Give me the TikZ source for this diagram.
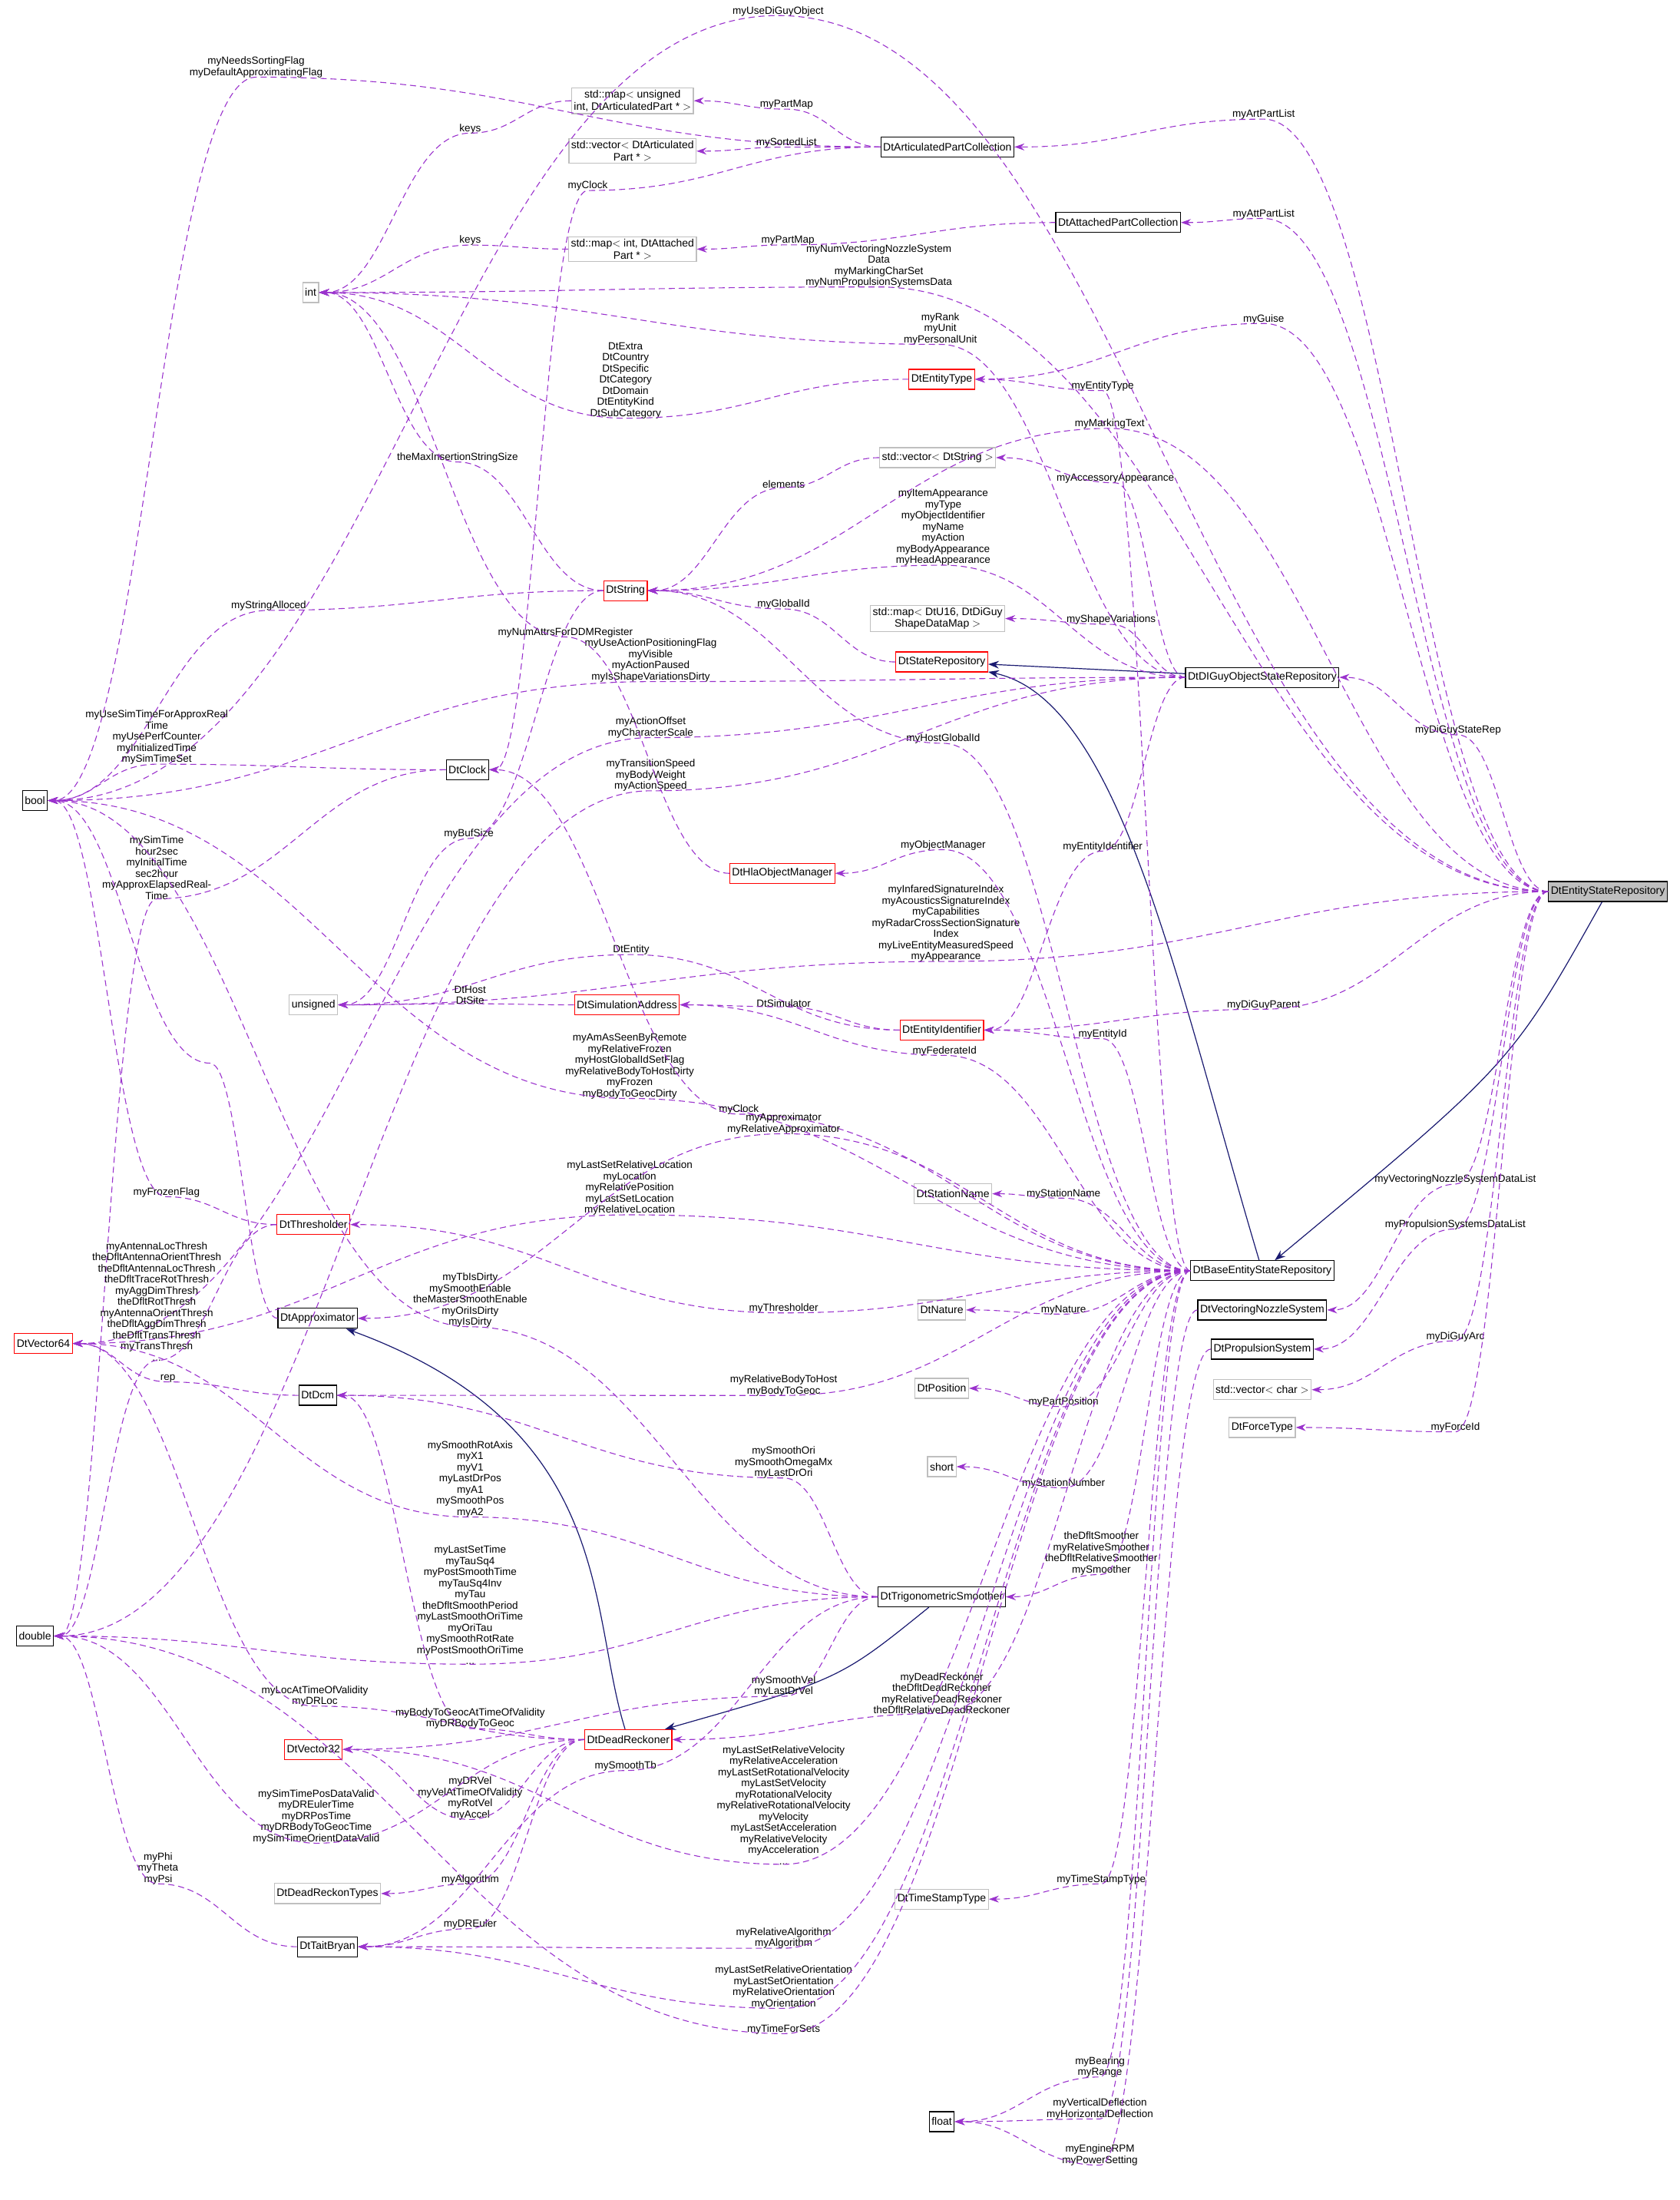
\documentclass[tikz,border=0pt]{standalone}
\usepackage{fontspec}
\setmainfont{Liberation Sans}
\usetikzlibrary{calc,arrows.meta}
\definecolor{edgep}{HTML}{9A32CD}
\definecolor{navyc}{HTML}{191970}
\definecolor{grayb}{HTML}{BFBFBF}
\newcommand\Edep[4]{%
 \node[lbl] (L) at (#3) {#4};
 \coordinate (Lp) at ($(L.south)+(0,-1)$);
 \coordinate (c1) at ($(#1.west)!0.45!(Lp)$);
 \coordinate (c2) at ($(Lp)!0.45!(#1.west)$);
 \coordinate (c3) at ($(Lp)!0.45!(#2.east)$);
 \coordinate (c4) at ($(#2.east)!0.45!(Lp)$);
 \draw[dep] (#1.west) .. controls (c1 |- #1.west) and (c2 |- Lp) .. (Lp) .. controls (c3 |- Lp) and (c4 |- #2.east) .. (#2.east);}
\begin{document}
\begin{tikzpicture}[x=1.8225pt,y=-1.8225pt,
 box/.style={draw,rectangle,inner sep=3pt,minimum height=26pt,font=\fontsize{14}{15.5}\selectfont,align=center,line width=1.2pt,fill=white},
 bk/.style={box,draw=black},
 rd/.style={box,draw=red},
 gy/.style={box,draw=grayb},
 lbl/.style={font=\fontsize{13.5}{14.5}\selectfont,align=center,inner sep=1pt,text=black},
 dep/.style={edgep,dashed,dash pattern=on 8pt off 5pt,line width=1.1pt,-{Stealth[length=13pt,width=9pt]}},
 inh/.style={navyc,line width=1.2pt,-{Stealth[length=14pt,width=10pt]}}]
\useasboundingbox (0,0) rectangle (1200,1572);
% nodes
\node[gy] (mapu) at (452,72) {std::map$<$ unsigned\\ int, DtArticulatedPart * $>$};
\node[gy] (veca) at (452,108) {std::vector$<$ DtArticulated\\Part * $>$};
\node[gy] (mapi) at (452,178) {std::map$<$ int, DtAttached\\Part * $>$};
\node[gy] (int) at (222,209) {int};
\node[gy] (vecs) at (670,327) {std::vector$<$ DtString $>$};
\node[gy] (mapd) at (670,442) {std::map$<$ DtU16, DtDiGuy\\ShapeDataMap $>$};
\node[gy] (uns) at (224,718) {unsigned};
\node[gy] (stn) at (681,853) {DtStationName};
\node[gy] (nat) at (673,936) {DtNature};
\node[gy] (pos) at (673,992) {DtPosition};
\node[gy] (short) at (673,1048) {short};
\node[gy] (vecc) at (902,993) {std::vector$<$ char $>$};
\node[gy] (force) at (902,1020) {DtForceType};
\node[gy] (tst) at (673,1357) {DtTimeStampType};
\node[gy] (drt) at (234,1353) {DtDeadReckonTypes};
\node[bk] (apc) at (677,105) {DtArticulatedPartCollection};
\node[bk] (atc) at (799,159) {DtAttachedPartCollection};
\node[bk] (bool) at (25,572) {bool};
\node[bk] (clock) at (334,550) {DtClock};
\node[bk] (digu) at (902,484) {DtDIGuyObjectStateRepository};
\node[bk,fill=grayb] (esr) at (1149,637) {DtEntityStateRepository};
\node[bk] (besr) at (902,908) {DtBaseEntityStateRepository};
\node[bk] (vns) at (902,936) {DtVectoringNozzleSystem};
\node[bk] (prop) at (902,964) {DtPropulsionSystem};
\node[bk] (appr) at (227,942) {DtApproximator};
\node[bk] (dcm) at (227,997) {DtDcm};
\node[bk] (trig) at (673,1141) {DtTrigonometricSmoother};
\node[bk] (dbl) at (25,1169) {double};
\node[bk] (tait) at (234,1391) {DtTaitBryan};
\node[bk] (flt) at (673,1516) {float};
\node[rd] (etype) at (673,271) {DtEntityType};
\node[rd] (str) at (447,422) {DtString};
\node[rd] (srep) at (673,473) {DtStateRepository};
\node[rd] (hla) at (559,624) {DtHlaObjectManager};
\node[rd] (sim) at (448,718) {DtSimulationAddress};
\node[rd] (eid) at (673,736) {DtEntityIdentifier};
\node[rd] (thr) at (224,875) {DtThresholder};
\node[rd] (v64) at (31,960) {DtVector64};
\node[rd] (v32) at (224,1250) {DtVector32};
\node[rd] (dr) at (449,1243) {DtDeadReckoner};
% inheritance
\draw[inh] (digu) -- (srep);
\draw[inh] (besr) .. controls (840,700) and (800,500) .. (srep);
\draw[inh] (esr) .. controls (1080,760) .. (besr);
\draw[inh] (dr) .. controls (420,1150) and (440,1020) .. (appr);
\draw[inh] (trig) .. controls (600,1200) .. (dr);
% ESR edges
\Edep{esr}{bool}{556,8}{myUseDiGuyObject}
\Edep{esr}{apc}{903,82}{myArtPartList}
\Edep{esr}{atc}{903,153}{myAttPartList}
\Edep{esr}{int}{628,190}{myNumVectoringNozzleSystem\\Data\\myMarkingCharSet\\myNumPropulsionSystemsData}
\Edep{esr}{etype}{903,228}{myGuise}
\Edep{esr}{str}{793,303}{myMarkingText}
\Edep{esr}{digu}{1042,522}{myDiGuyStateRep}
\Edep{esr}{uns}{676,660}{myInfaredSignatureIndex\\myAcousticsSignatureIndex\\myCapabilities\\myRadarCrossSectionSignature\\Index\\myLiveEntityMeasuredSpeed\\myAppearance}
\Edep{esr}{eid}{903,718}{myDiGuyParent}
\Edep{esr}{vns}{1040,843}{myVectoringNozzleSystemDataList}
\Edep{esr}{prop}{1040,875}{myPropulsionSystemsDataList}
\Edep{esr}{vecc}{1040,955}{myDiGuyArc}
\Edep{esr}{force}{1040,1020}{myForceId}
% Articulated / attached
\Edep{apc}{bool}{183,48}{myNeedsSortingFlag\\myDefaultApproximatingFlag}
\Edep{apc}{mapu}{562,75}{myPartMap}
\Edep{apc}{veca}{562,102}{mySortedList}
\Edep{apc}{clock}{420,133}{myClock}
\Edep{atc}{mapi}{563,172}{myPartMap}
\Edep{mapu}{int}{336,92}{keys}
\Edep{mapi}{int}{336,172}{keys}
\Edep{etype}{int}{447,272}{DtExtra\\DtCountry\\DtSpecific\\DtCategory\\DtDomain\\DtEntityKind\\DtSubCategory}
\Edep{str}{int}{327,327}{theMaxInsertionStringSize}
\Edep{str}{bool}{192,433}{myStringAlloced}
\Edep{str}{uns}{335,596}{myBufSize}
\Edep{vecs}{str}{560,346}{elements}
\Edep{digu}{str}{674,377}{myItemAppearance\\myType\\myObjectIdentifier\\myName\\myAction\\myBodyAppearance\\myHeadAppearance}
\Edep{srep}{str}{560,432}{myGlobalId}
\Edep{digu}{mapd}{794,443}{myShapeVariations}
\Edep{digu}{vecs}{797,342}{myAccessoryAppearance}
\Edep{digu}{int}{672,235}{myRank\\myUnit\\myPersonalUnit}
\Edep{digu}{bool}{465,472}{myUseActionPositioningFlag\\myVisible\\myActionPaused\\myIsShapeVariationsDirty}
\Edep{digu}{v64}{465,520}{myActionOffset\\myCharacterScale}
\Edep{digu}{dbl}{465,554}{myTransitionSpeed\\myBodyWeight\\myActionSpeed}
\Edep{digu}{eid}{788,605}{myEntityIdentifier}
\Edep{clock}{bool}{112,527}{myUseSimTimeForApproxReal\\Time\\myUsePerfCounter\\myInitializedTime\\mySimTimeSet}
\Edep{clock}{dbl}{112,620}{mySimTime\\hour2sec\\myInitialTime\\sec2hour\\myApproxElapsedReal-\\Time}
\Edep{hla}{int}{404,452}{myNumAttrsForDDMRegister}
% BaseESR edges
\Edep{besr}{hla}{674,604}{myObjectManager}
\Edep{besr}{str}{674,528}{myHostGlobalId}
\Edep{besr}{etype}{788,276}{myEntityType}
\Edep{eid}{uns}{451,679}{DtEntity}
\Edep{sim}{uns}{336,711}{DtHost\\DtSite}
\Edep{eid}{sim}{560,717}{DtSimulator}
\Edep{besr}{sim}{675,751}{myFederateId}
\Edep{besr}{eid}{788,739}{myEntityId}
\Edep{besr}{bool}{450,762}{myAmAsSeenByRemote\\myRelativeFrozen\\myHostGlobalIdSetFlag\\myRelativeBodyToHostDirty\\myFrozen\\myBodyToGeocDirty}
\Edep{besr}{clock}{528,793}{myClock}
\Edep{besr}{v64}{450,849}{myLastSetRelativeLocation\\myLocation\\myRelativePosition\\myLastSetLocation\\myRelativeLocation}
\Edep{besr}{appr}{560,803}{myApproximator\\myRelativeApproximator}
\Edep{besr}{stn}{760,853}{myStationName}
\Edep{besr}{thr}{560,935}{myThresholder}
\Edep{besr}{nat}{760,936}{myNature}
\Edep{besr}{dcm}{560,990}{myRelativeBodyToHost\\myBodyToGeoc}
\Edep{besr}{pos}{760,1002}{myPartPosition}
\Edep{besr}{short}{760,1060}{myStationNumber}
\Edep{besr}{trig}{787,1110}{theDfltSmoother\\myRelativeSmoother\\theDfltRelativeSmoother\\mySmoother}
\Edep{besr}{dr}{673,1210}{myDeadReckoner\\theDfltDeadReckoner\\myRelativeDeadReckoner\\theDfltRelativeDeadReckoner}
\Edep{besr}{v32}{560,1290}{myLastSetRelativeVelocity\\myRelativeAcceleration\\myLastSetRotationalVelocity\\myLastSetVelocity\\myRotationalVelocity\\myRelativeRotationalVelocity\\myVelocity\\myLastSetAcceleration\\myRelativeVelocity\\myAcceleration\\...}
\Edep{besr}{tst}{787,1343}{myTimeStampType}
\Edep{besr}{tait}{560,1385}{myRelativeAlgorithm\\myAlgorithm}
\Edep{besr}{tait}{560,1420}{myLastSetRelativeOrientation\\myLastSetOrientation\\myRelativeOrientation\\myOrientation}
\Edep{besr}{dbl}{560,1450}{myTimeForSets}
\Edep{besr}{flt}{786,1477}{myBearing\\myRange}
\Edep{vns}{flt}{786,1507}{myVerticalDeflection\\myHorizontalDeflection}
\Edep{prop}{flt}{786,1540}{myEngineRPM\\myPowerSetting}
% lower-left edges
\Edep{thr}{bool}{119,852}{myFrozenFlag}
\Edep{thr}{dbl}{112,930}{myAntennaLocThresh\\theDfltAntennaOrientThresh\\theDfltAntennaLocThresh\\theDfltTraceRotThresh\\myAggDimThresh\\theDfltRotThresh\\myAntennaOrientThresh\\theDfltAggDimThresh\\theDfltTransThresh\\myTransThresh\\...}
\Edep{appr}{bool}{150,760}{}
\Edep{dcm}{v64}{120,985}{rep}
\Edep{trig}{bool}{336,929}{myTbIsDirty\\mySmoothEnable\\theMasterSmoothEnable\\myOriIsDirty\\myIsDirty}
\Edep{trig}{dcm}{560,1045}{mySmoothOri\\mySmoothOmegaMx\\myLastDrOri}
\Edep{trig}{v64}{336,1057}{mySmoothRotAxis\\myX1\\myV1\\myLastDrPos\\myA1\\mySmoothPos\\myA2}
\Edep{trig}{dbl}{336,1147}{myLastSetTime\\myTauSq4\\myPostSmoothTime\\myTauSq4Inv\\myTau\\theDfltSmoothPeriod\\myLastSmoothOriTime\\myOriTau\\mySmoothRotRate\\myPostSmoothOriTime\\...}
\Edep{trig}{v32}{560,1205}{mySmoothVel\\myLastDrVel}
\Edep{trig}{tait}{447,1262}{mySmoothTb}
\Edep{dr}{v64}{225,1212}{myLocAtTimeOfValidity\\myDRLoc}
\Edep{dr}{dcm}{336,1228}{myBodyToGeocAtTimeOfValidity\\myDRBodyToGeoc}
\Edep{dr}{v32}{336,1285}{myDRVel\\myVelAtTimeOfValidity\\myRotVel\\myAccel}
\Edep{dr}{dbl}{226,1298}{mySimTimePosDataValid\\myDREulerTime\\myDRPosTime\\myDRBodyToGeocTime\\mySimTimeOrientDataValid}
\Edep{dr}{drt}{336,1343}{myAlgorithm}
\Edep{dr}{tait}{336,1375}{myDREuler}
\Edep{tait}{dbl}{113,1335}{myPhi\\myTheta\\myPsi}
\end{tikzpicture}
\end{document}
